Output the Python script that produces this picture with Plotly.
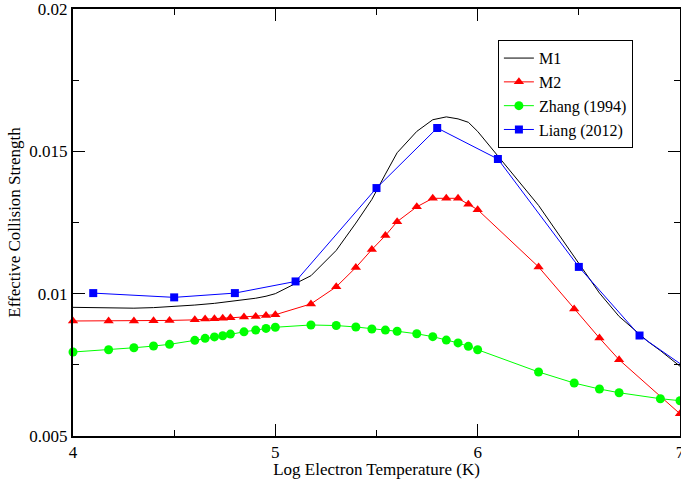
import plotly.graph_objects as go

# M1 (line only)
m1_x = [4.0, 4.176, 4.301, 4.398, 4.477, 4.602, 4.699, 4.778, 4.845, 4.903, 4.954, 5.0,
        5.176, 5.301, 5.398, 5.477, 5.544, 5.602, 5.699, 5.778, 5.845, 5.903, 5.954, 6.0,
        6.301, 6.477, 6.602, 6.699, 6.778, 6.845, 6.903, 6.954, 7.0]
m1_y = [0.00952, 0.00949, 0.00949, 0.00951, 0.00954, 0.00960, 0.00966, 0.00973, 0.00978, 0.00984, 0.00991, 0.01000,
        0.01063, 0.01152, 0.01248, 0.01331, 0.01420, 0.01495, 0.01570, 0.01611, 0.01621, 0.01614, 0.01602, 0.01570,
        0.01310, 0.01130, 0.01002, 0.00920, 0.00870, 0.00830, 0.00800, 0.00772, 0.00745]

# M2
m2_x = [4.0, 4.176, 4.301, 4.398, 4.477, 4.602, 4.653, 4.699, 4.740, 4.778, 4.845, 4.903, 4.954, 5.0,
        5.176, 5.301, 5.398, 5.477, 5.544, 5.602, 5.699, 5.778, 5.845, 5.903, 5.954, 6.0,
        6.301, 6.477, 6.602, 6.699, 7.0]
m2_y = [0.00904, 0.00904, 0.00904, 0.00905, 0.00906, 0.00908, 0.00911, 0.00912, 0.00914, 0.00915, 0.00918, 0.00920, 0.00923, 0.00926,
        0.00964, 0.01024, 0.01092, 0.01155, 0.01204, 0.01253, 0.01305, 0.01335, 0.01335, 0.01335, 0.01314, 0.01295,
        0.01094, 0.00946, 0.00844, 0.00768, 0.00578]

# Zhang (1994)
zh_x = [4.0, 4.176, 4.301, 4.398, 4.477, 4.602, 4.653, 4.699, 4.740, 4.778, 4.845, 4.903, 4.954, 5.0,
        5.176, 5.301, 5.398, 5.477, 5.544, 5.602, 5.699, 5.778, 5.845, 5.903, 5.954, 6.0,
        6.301, 6.477, 6.602, 6.699, 6.903, 7.0]
zh_y = [0.00795, 0.00803, 0.00810, 0.00816, 0.00822, 0.00836, 0.00843, 0.00848, 0.00852, 0.00858, 0.00866, 0.00872, 0.00878, 0.00882,
        0.00890, 0.00888, 0.00883, 0.00876, 0.00872, 0.00868, 0.00859, 0.00849, 0.00837, 0.00827, 0.00815, 0.00803,
        0.00725, 0.00686, 0.00665, 0.00652, 0.00631, 0.00624]

# Liang (2012)
li_x = [4.1, 4.5, 4.8, 5.1, 5.5, 5.8, 6.1, 6.5, 6.8, 7.1]
li_y = [0.01002, 0.00987, 0.01002, 0.01043, 0.01371, 0.01582, 0.01473, 0.01094, 0.00853, 0.00705]

FONT = "Liberation Serif, Times New Roman, serif"

fig = go.Figure()
fig.add_trace(go.Scatter(x=m1_x, y=m1_y, mode="lines", name="M1",
                         line=dict(color="black", width=1)))
fig.add_trace(go.Scatter(x=m2_x, y=m2_y, mode="lines+markers", name="M2",
                         line=dict(color="#ff0000", width=1),
                         marker=dict(symbol="triangle-up", size=9, color="#ff0000"),
                         cliponaxis=False))
fig.add_trace(go.Scatter(x=zh_x, y=zh_y, mode="lines+markers", name="Zhang (1994)",
                         line=dict(color="#00ff00", width=1),
                         marker=dict(symbol="circle", size=9, color="#00ff00"),
                         cliponaxis=False))
fig.add_trace(go.Scatter(x=li_x, y=li_y, mode="lines+markers", name="Liang (2012)",
                         line=dict(color="#0000ff", width=1),
                         marker=dict(symbol="square", size=8, color="#0000ff"),
                         cliponaxis=False))

axis_common = dict(showgrid=False, zeroline=False, showline=True, linecolor="black",
                   linewidth=2, mirror="ticks", ticks="inside", ticklen=12, tickwidth=1,
                   tickcolor="black", tickfont=dict(family=FONT, size=17, color="black"),
                   automargin=False, ticklabeloverflow="allow")

fig.update_xaxes(range=[4, 7], tickvals=[4, 5, 6, 7], ticktext=["4", "5", "6", "7"],
                 minor=dict(tickvals=[4.5, 5.5, 6.5], ticks="inside", ticklen=6, tickcolor="black"),
                 title=dict(text="Log Electron Temperature (K)", font=dict(family=FONT, size=17, color="black"),
                            standoff=0),
                 **axis_common)
fig.update_yaxes(range=[0.005, 0.02], tickvals=[0.005, 0.01, 0.015, 0.02],
                 ticktext=["0.005", "0.01", "0.015", "0.02"],
                 minor=dict(tickvals=[0.0075, 0.0125, 0.0175], ticks="inside", ticklen=6, tickcolor="black"),
                 title=dict(text="Effective Collision Strength", font=dict(family=FONT, size=17, color="black"),
                            standoff=4),
                 **axis_common)

fig.update_layout(
    width=681, height=479,
    margin=dict(l=73, r=1, t=9, b=43),
    plot_bgcolor="white", paper_bgcolor="white",
    font=dict(family=FONT, size=17, color="black"),
    legend=dict(x=0.70, y=0.927, xanchor="left", yanchor="top",
                bgcolor="white", bordercolor="black", borderwidth=1,
                font=dict(family=FONT, size=16, color="black"),
                tracegroupgap=0, itemwidth=30),
)

fig.write_html("out.html", config={"displayModeBar": False},
               post_script="document.body.style.margin='0';")
